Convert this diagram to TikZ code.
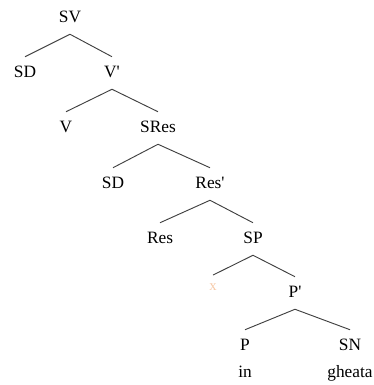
\documentclass[tikz,border=0pt]{standalone}
\usepackage{fontspec}
\setmainfont{Liberation Serif}
\usepackage{xcolor}
\usepackage{tikz}
\usetikzlibrary{positioning}
\definecolor{tracecol}{HTML}{F6C9A8}
\definecolor{edgegray}{HTML}{404040}

\begin{document}
\begin{tikzpicture}[x=0.75pt, y=-0.75pt, font=\fontsize{13}{15}\selectfont]
        \useasboundingbox (0,0) rectangle (374,385);
        \begin{scope}[every node/.style={inner sep=0pt, text height=1.6ex, text depth=0.2ex, minimum height=24pt}]
            \node (sv) at (70,18) {SV};
            \node (sd1) at (25,73) {SD};
            \node (vbar) at (112,73) {V\textquotesingle};
            \node (v) at (66,128) {V};
            \node (sres) at (158,128) {SRes};
            \node (sd2) at (113,184) {SD};
            \node (resbar) at (210,184) {Res\textquotesingle};
            \node (res) at (160,239) {Res};
            \node (sp) at (253,239) {SP};
            \node[text=tracecol, font=\fontsize{11}{12}\selectfont, minimum height=16pt] (x) at (213,286) {x};
            \node (pbar) at (295,293) {P\textquotesingle};
            \node (p) at (245,346) {P};
            \node (sn) at (350,346) {SN};
        \end{scope}
        \node[below=-1pt of p] (in) {in};
        \node[below=-1pt of sn] (gheata) {gheata};
        \begin{scope}[draw=edgegray, line width=0.7pt]
            \draw (sv.south) -- (sd1.north);
            \draw (sv.south) -- (vbar.north);
            \draw (vbar.south) -- (v.north);
            \draw (vbar.south) -- (sres.north);
            \draw (sres.south) -- (sd2.north);
            \draw (sres.south) -- (resbar.north);
            \draw (resbar.south) -- (res.north);
            \draw (resbar.south) -- (sp.north);
            \draw (sp.south) -- (x.north);
            \draw (sp.south) -- (pbar.north);
            \draw (pbar.south) -- (p.north);
            \draw (pbar.south) -- (sn.north);
        \end{scope}
    \end{tikzpicture}
\end{document}
